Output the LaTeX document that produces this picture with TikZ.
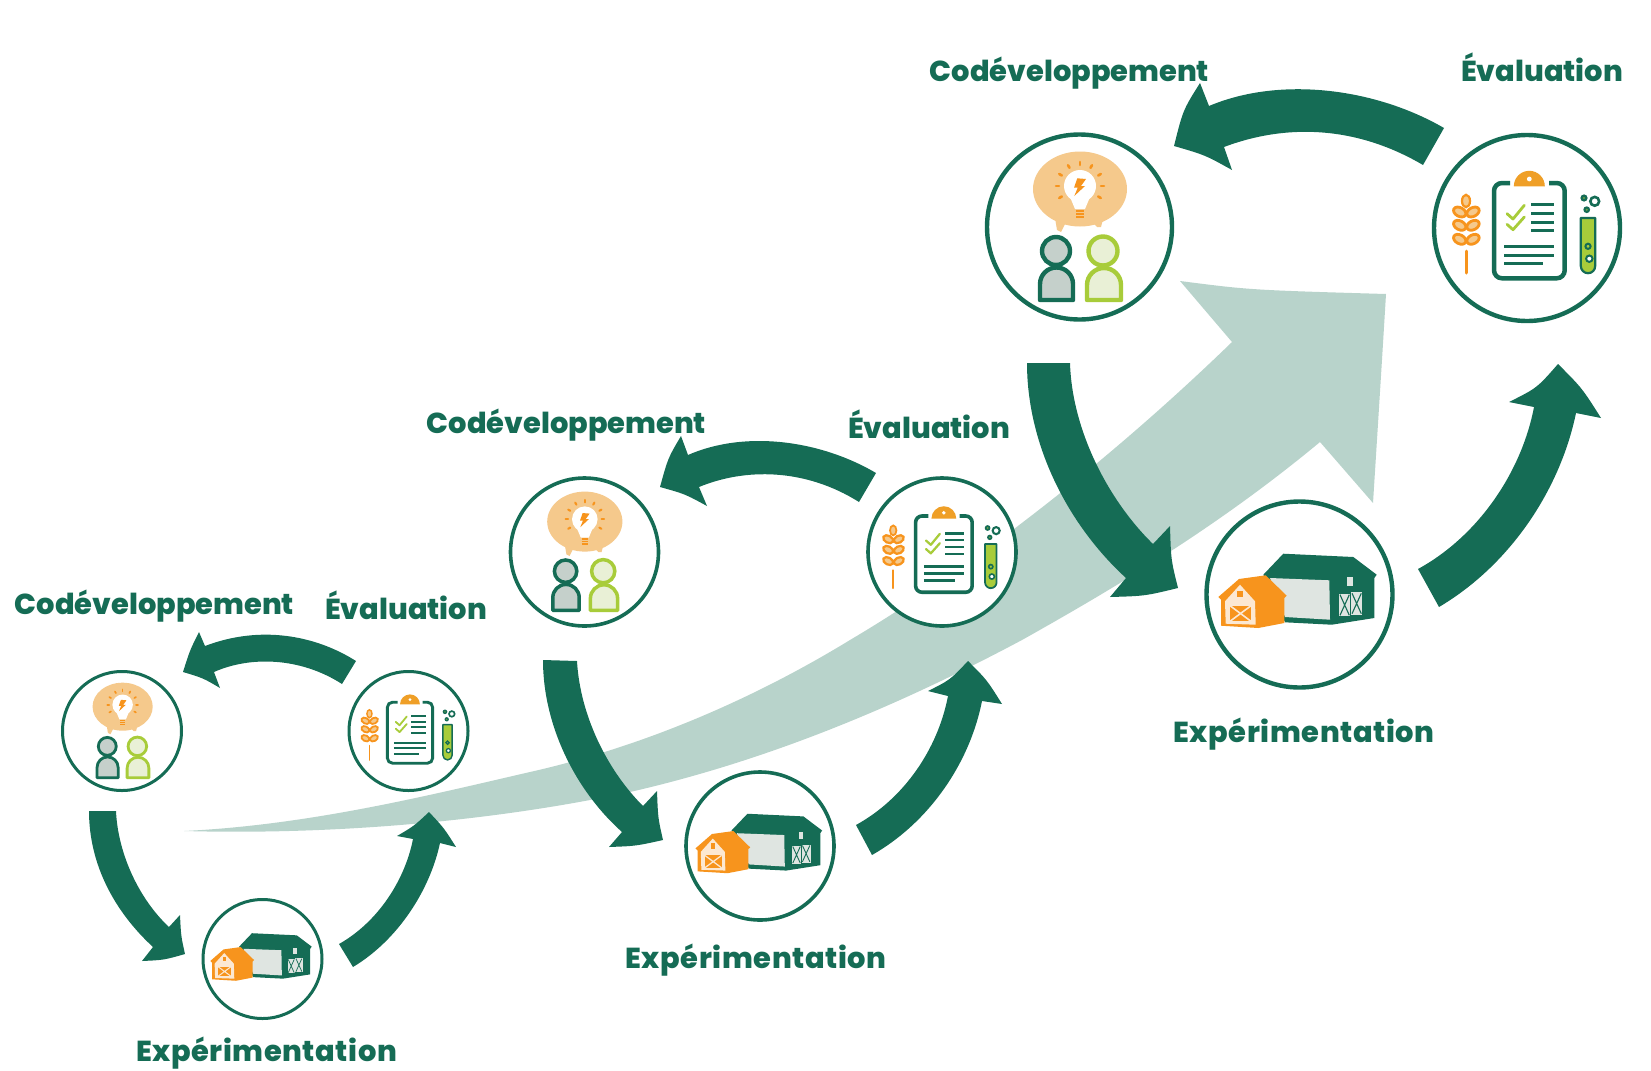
\documentclass[tikz,border=0pt]{standalone}
\usepackage{fontspec}
\setmainfont{Poppins}[BoldFont={Poppins ExtraBold}]
\definecolor{dkgreen}{HTML}{156C55}
\definecolor{palegreen}{HTML}{B8D3CB}
\definecolor{ringgrey}{HTML}{C5D0CB}
\definecolor{lime}{HTML}{A8CC3A}
\definecolor{palelime}{HTML}{E9F0D6}
\definecolor{orange}{HTML}{F7941D}
\definecolor{clipcol}{HTML}{EF9F27}
\definecolor{peach}{HTML}{F5C98C}
\definecolor{cream}{HTML}{FCE8D2}
\definecolor{wall}{HTML}{DFE5E1}
\tikzset{
  x=1bp,y=-1bp,
  ring/.style={circle,draw=dkgreen,fill=white,inner sep=0pt,line width=#1},
  bigarrow/.style={fill=dkgreen,draw=none},
  lab/.style={anchor=base,text=dkgreen,inner sep=0pt,font=\fontsize{29}{30}\selectfont\bfseries},
  labx/.style={lab,font=\fontsize{29}{30}\selectfont\bfseries\addfontfeature{LetterSpace=2}},
  lw/.style={line width=#1*\ics*1bp}
}
\newcommand\ideaicon[3]{%
\begin{scope}[shift={(#1,#2)},scale=#3]\def\ics{#3}
  \fill[peach] (1,-38) ellipse [x radius=47,y radius=37.5];
  \fill[peach] (-24,-9) -- (-22,3) -- (-18,5) -- (-14,-3) -- cycle;
  \fill[peach] (14,-4) -- (18,0) -- (22,0) -- (24,-8) -- cycle;
  \fill[white] (1,-41) circle (16);
  \fill[white] (-9,-30) -- (-4,-18) -- (6,-18) -- (11,-30) -- cycle;
  \foreach \yy in {-16,-13,-10} \draw[orange,lw=1.9] (-3,\yy) -- (5,\yy);
  \foreach \aa in {0,30,60,90,120,150,180,210,-30}
    \draw[orange,lw=2.6,line cap=round] ({1+21*cos(\aa)},{-41-21*sin(\aa)}) -- ({1+24*cos(\aa)},{-41-24*sin(\aa)});
  \fill[orange] (-1.7,-48.7) -- (7,-48) -- (2,-41) -- (6,-41) -- (-4.7,-31) -- (-1.3,-39.3) -- (-5,-39.3) -- cycle;
  \draw[dkgreen,fill=ringgrey,lw=4.4,line join=round] (-39,73) -- (-39,57) arc[start angle=180,end angle=360,radius=16.5] -- (-6,73) -- cycle;
  \draw[dkgreen,fill=ringgrey,lw=4.4] (-23,24) circle (14);
  \draw[lime,fill=palelime,lw=4.4,line join=round] (8,73) -- (8,58) arc[start angle=180,end angle=360,radius=17] -- (42,73) -- cycle;
  \draw[lime,fill=palelime,lw=4.4] (24,24) circle (14.5);
\end{scope}}
\newcommand\evalicon[3]{%
\begin{scope}[shift={(#1,#2)},scale=#3]\def\ics{#3}
  \draw[dkgreen,lw=4.5,rounded corners=8*\ics*1bp] (-17,-45) -- (-33,-45) -- (-33,50.3) -- (37.7,50.3) -- (37.7,-45) -- (22,-45);
  \fill[clipcol] (-13.2,-41.7) arc[start angle=180,end angle=360,radius=15.5] -- cycle;
  \fill[white] (2.3,-49) circle (2.4);
  \draw[lime,lw=2.8,line cap=round,line join=round] (-20,-14.3) -- (-14,-9) -- (-2.7,-22.7);
  \draw[lime,lw=2.8,line cap=round,line join=round] (-20,-3.7) -- (-14,1.7) -- (-2.7,-11);
  \foreach \yy in {-23.3,-14.7,-6,2.7} \draw[dkgreen,lw=3] (4,\yy) -- (27.3,\yy);
  \draw[dkgreen,lw=3] (-22.7,18.3) -- (27.3,18.3);
  \draw[dkgreen,lw=3] (-22.7,27) -- (27.3,27);
  \draw[dkgreen,lw=3] (-22.7,35.7) -- (15.7,35.7);
  \draw[orange,lw=3,line cap=round] (-61,23) -- (-61,45);
  \draw[orange,fill=peach,lw=2.2] (-61,-27) ellipse [x radius=4,y radius=6.2];
  \foreach \yy in {-16,-2.7,11.3}{
    \draw[orange,fill=peach,lw=2.8,rotate around={-28:(-67.3,\yy)}] (-67.3,\yy) ellipse [x radius=6.6,y radius=4.4];
    \draw[orange,fill=peach,lw=2.8,rotate around={28:(-54,\yy)}] (-54,\yy) ellipse [x radius=6.6,y radius=4.4];
  }
  \draw[dkgreen,fill=lime,lw=2.2,line join=round] (53.8,-10) -- (68.2,-10) -- (68.2,38) arc[start angle=0,end angle=180,radius=7.2] -- cycle;
  \draw[dkgreen,lw=2] (61,18.3) circle (2.6);
  \draw[dkgreen,fill=white,lw=2] (62.3,30.7) circle (3.2);
  \fill[dkgreen] (57,-30) circle (3.6);
  \fill[lime!60!dkgreen] (57,-30) circle (1.2);
  \draw[dkgreen,fill=white,lw=2.6] (67.7,-26.7) circle (4.4);
  \fill[dkgreen] (59.7,-18.3) circle (3.4);
  \fill[lime!60!dkgreen] (59.7,-18.3) circle (1.1);
\end{scope}}
\newcommand\barnicon[3]{%
\begin{scope}[shift={(#1,#2)},scale=#3]\def\ics{#3}
  \fill[dkgreen] (-35.7,-19.3) -- (-15.7,-40.3) -- (54.3,-37) -- (77.7,-19.3) -- (75.3,-16) -- (75.3,24) -- (32.7,30.7) -- (-14,28.3) -- cycle;
  \fill[wall] (-29,-16) -- (30.3,-13.7) -- (31,25.7) -- (-14,23) -- cycle;
  \fill[wall] (48.3,-17) rectangle (54.3,-8.3);
  \fill[wall] (40,-0.3) rectangle (51.3,22.3);
  \fill[wall] (52,-1.7) rectangle (63.3,20.7);
  \draw[dkgreen,lw=1.1] (41,0.7) -- (50.3,21.3) (50.3,0.7) -- (41,21.3);
  \draw[dkgreen,lw=1.1] (53,-0.7) -- (62.3,19.7) (62.3,-0.7) -- (53,19.7);
  \fill[orange] (-80.7,3) -- (-60,-15) -- (-33.3,-18.7) -- (-12.3,1.7) -- (-14.7,4) -- (-14.7,29) -- (-40.7,34) -- (-78,31.7) -- (-78,5.7) -- cycle;
  \fill[cream] (-74,7.3) -- (-59,-9.3) -- (-44,7.3) -- (-43.3,30.7) -- (-73.3,29.7) -- cycle;
  \fill[orange] (-61.7,-3.3) rectangle (-55.7,3.3);
  \fill[orange] (-69,11.7) rectangle (-48,27.3);
  \draw[cream,lw=1.6] (-69,11.7) -- (-48,27.3) (-48,11.7) -- (-69,27.3);
\end{scope}}
\begin{document}
\begin{tikzpicture}
\useasboundingbox (0,0) rectangle (1651,1070);
% rising background arrow
\fill[palegreen] (184,831) .. controls (310,825) and (430,795) .. (530,772)
  .. controls (650,745) and (760,695) .. (850,640)
  .. controls (960,575) and (1100,470) .. (1232,342)
  -- (1180,281) .. controls (1250,290) .. (1386,294)
  .. controls (1382,360) .. (1373,503)
  -- (1320,442) .. controls (1220,525) and (1120,585) .. (1022,640)
  .. controls (900,705) and (770,760) .. (630,792)
  .. controls (490,822) and (330,835) .. (184,831) -- cycle;
% rings
\node[ring=4.4bp,minimum size=185bp] (codA) at (1079.5,227) {};
\node[ring=4.4bp,minimum size=186bp] (evaA) at (1527,228) {};
\node[ring=4.4bp,minimum size=186bp] (expA) at (1299.5,594.5) {};
\node[ring=3.6bp,minimum size=148bp] (codB) at (584.5,552) {};
\node[ring=3.6bp,minimum size=148bp] (evaB) at (942,552) {};
\node[ring=3.6bp,minimum size=148bp] (expB) at (760,846) {};
\node[ring=3bp,minimum size=119bp] (codC) at (122,731) {};
\node[ring=3bp,minimum size=119bp] (evaC) at (408.5,731) {};
\node[ring=3bp,minimum size=119bp] (expC) at (262.5,959) {};
% icons
\ideaicon{1079}{227}{1}
\evalicon{1527}{228}{1}
\barnicon{1299}{594}{1}
\ideaicon{584}{552}{0.8}
\evalicon{942}{552}{0.8}
\barnicon{760}{846}{0.8}
\ideaicon{122}{731}{0.64}
\evalicon{408.5}{731}{0.64}
\barnicon{262}{959}{0.64}
% large cycle arrows
\fill[bigarrow] (1027,363) -- (1070,363) .. controls (1072,430) and (1108,500) .. (1153,544)
  -- (1170,526) .. controls (1171,560) .. (1178,588) .. controls (1145,596) .. (1110,597)
  -- (1126,578) .. controls (1068,525) and (1027,445) .. (1027,363) -- cycle;
\fill[bigarrow] (1444,128) .. controls (1375,88) and (1280,76) .. (1209,106)
  -- (1200,83) .. controls (1183,110) .. (1174,146) .. controls (1205,155) .. (1232,170)
  -- (1224,147) .. controls (1285,124) and (1355,125) .. (1423,165) -- cycle;
\fill[bigarrow] (1418,569) .. controls (1480,535) and (1522,470) .. (1534,407)
  -- (1509,402) .. controls (1537,388) .. (1558,364) .. controls (1582,388) .. (1601,418)
  -- (1576,413) .. controls (1560,490) and (1510,565) .. (1439,607) -- cycle;
% medium cycle arrows
\fill[bigarrow] (543,660) -- (577,661) .. controls (580,715) and (607,770) .. (643,806)
  -- (657,791) .. controls (658,818) .. (663,840) .. controls (636,846) .. (609,847)
  -- (622,832) .. controls (575,790) and (543,725) .. (543,660) -- cycle;
\fill[bigarrow] (876,473) .. controls (820,440) and (745,430) .. (688,455)
  -- (681,436) .. controls (668,458) .. (660,487) .. controls (685,494) .. (707,506)
  -- (699,487) .. controls (745,468) and (805,468) .. (859,502) -- cycle;
\fill[bigarrow] (856,825) .. controls (905,798) and (938,748) .. (948,696)
  -- (928,691) .. controls (950,680) .. (968,661) .. controls (987,680) .. (1002,704)
  -- (982,701) .. controls (970,762) and (930,822) .. (872,855) -- cycle;
% small cycle arrows
\fill[bigarrow] (89,811) -- (116,811) .. controls (118,855) and (140,900) .. (169,927)
  -- (180,915) .. controls (181,936) .. (185,954) .. controls (164,960) .. (142,961)
  -- (153,947) .. controls (115,912) and (89,865) .. (89,811) -- cycle;
\fill[bigarrow] (356,661) .. controls (315,635) and (260,625) .. (205,646)
  -- (199,632) .. controls (190,650) .. (183,672) .. controls (203,678) .. (220,688)
  -- (214,672) .. controls (250,656) and (300,657) .. (342,684) -- cycle;
\fill[bigarrow] (339,944) .. controls (378,922) and (405,880) .. (413,839)
  -- (397,836) .. controls (414,826) .. (429,812) .. controls (444,828) .. (456,847)
  -- (440,843) .. controls (430,890) and (398,940) .. (353,967) -- cycle;
% labels
\node[lab] (lcodA) at (1069.5,81) {Codéveloppement};
\node[lab] (levaA) at (1542,81) {Évaluation};
\node[labx] (lexpA) at (1304,742) {Expérimentation};
\node[lab] (lcodB) at (566.5,433) {Codéveloppement};
\node[lab] (levaB) at (929,438) {Évaluation};
\node[labx] (lexpB) at (756,968) {Expérimentation};
\node[lab] (lcodC) at (154.5,614) {Codéveloppement};
\node[lab] (levaC) at (406,619) {Évaluation};
\node[labx] (lexpC) at (266.5,1061) {Expérimentation};
\end{tikzpicture}
\end{document}
